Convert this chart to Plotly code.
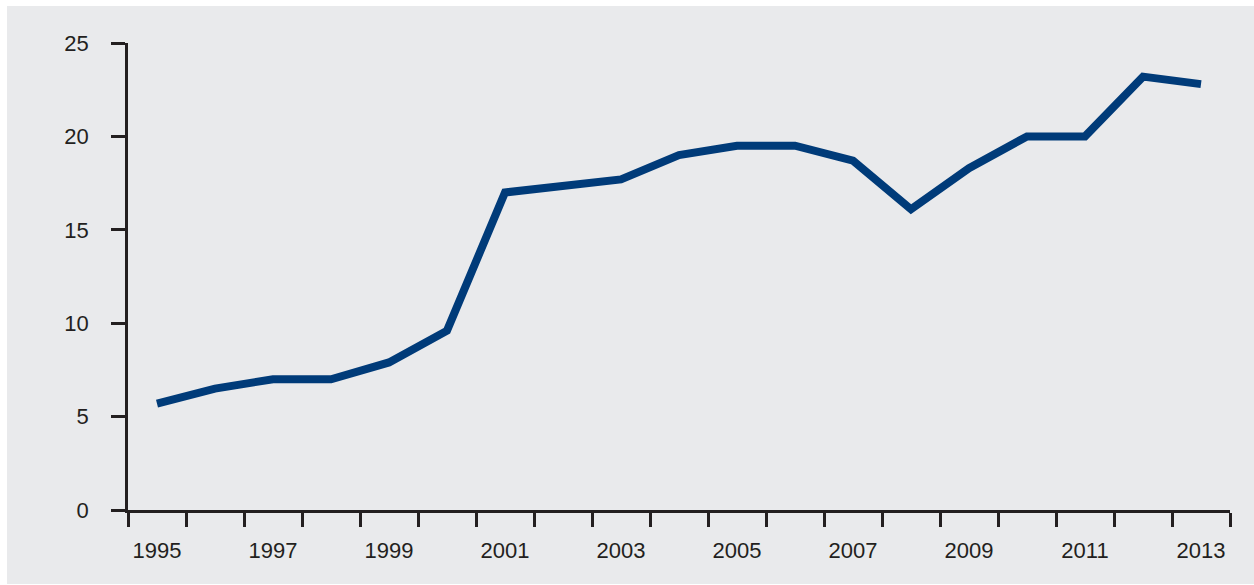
import plotly.graph_objects as go

years = list(range(1995, 2014))
values = [5.7, 6.5, 7.0, 7.0, 7.9, 9.6, 17.0, 17.3, 17.7, 19.0, 19.5, 19.5,
          18.7, 16.1, 18.3, 20.0, 20.0, 23.2, 22.8]
x_tick_labels = [str(y) for y in range(1995, 2014, 2)]
y_tick_values = [0, 5, 10, 15, 20, 25]

BG = "#e9eaec"
INK = "#231f20"
LINE = "#003b79"

fig = go.Figure()
fig.add_trace(go.Scatter(
    x=years, y=values, mode="lines",
    line=dict(color=LINE, width=8),
    showlegend=False, hoverinfo="skip",
))

font = dict(family="Liberation Sans, Arial, sans-serif", size=22, color=INK)

fig.update_layout(
    width=1254, height=585,
    margin=dict(l=128, r=24, t=43, b=75),
    paper_bgcolor=BG, plot_bgcolor=BG,
    font=font,
    xaxis=dict(
        range=[1994.5, 2013.5], showgrid=False, zeroline=False,
        tickvals=[int(t) for t in x_tick_labels], ticktext=x_tick_labels,
        ticks="", showline=True, linecolor=INK, linewidth=2.5,
        ticklabelstandoff=19,
        minor=dict(tick0=1994.5, dtick=1, ticks="outside", ticklen=14,
                   tickwidth=2.5, tickcolor=INK, showgrid=False),
        tickfont=font,
    ),
    yaxis=dict(
        range=[0, 25], tickvals=y_tick_values, showgrid=False, zeroline=False,
        ticks="outside", ticklen=14, tickwidth=2.5, tickcolor=INK,
        showline=True, linecolor=INK, linewidth=2.5,
        ticklabelstandoff=18, tickfont=font,
    ),
    shapes=[
        dict(type="rect", xref="paper", yref="paper", x0=-0.2, x1=1.1,
             y0=1.0 + 37/467, y1=1.2, fillcolor="white", line_width=0, layer="above"),
        dict(type="rect", xref="paper", yref="paper", x0=-0.2, x1=-121/1102,
             y0=-0.3, y1=1.2, fillcolor="white", line_width=0, layer="above"),
        dict(type="rect", xref="paper", yref="paper", x0=-0.2, x1=1.1,
             y0=-0.3, y1=-74/467, fillcolor="white", line_width=0, layer="above"),
    ],
)

fig.write_html("out.html", config={"displayModeBar": False},
               post_script="document.body.style.margin='0px';")
